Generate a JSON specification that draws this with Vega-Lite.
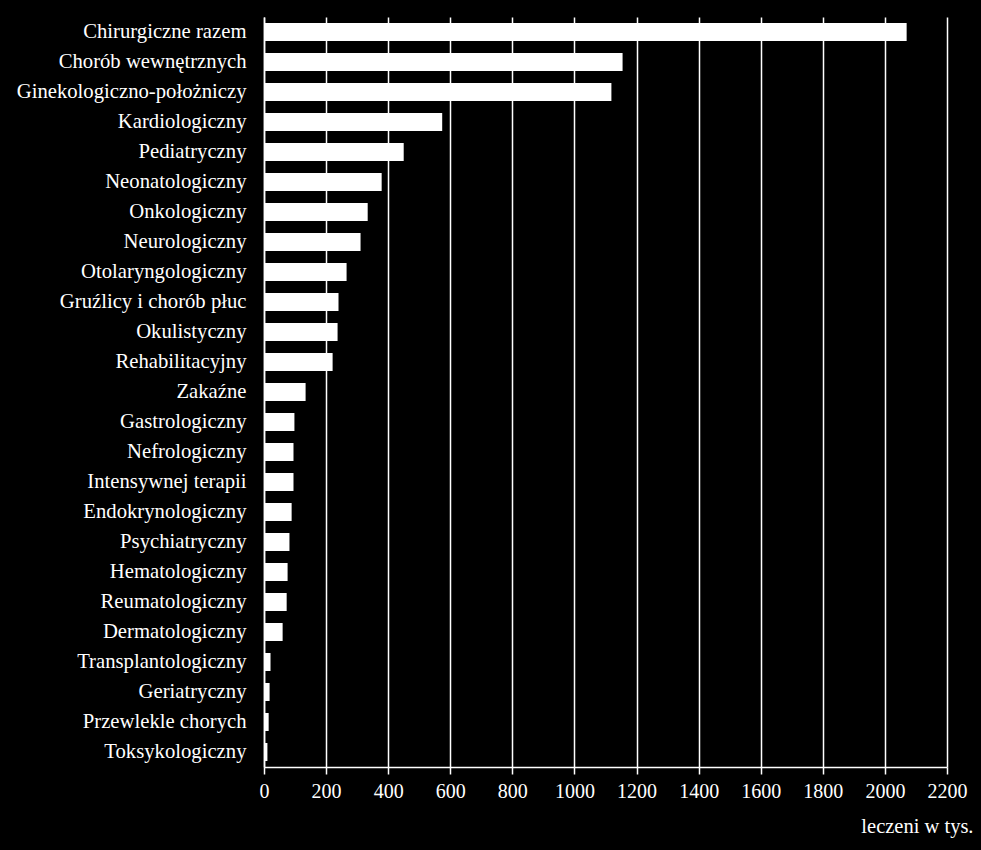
{
  "$schema": "https://vega.github.io/schema/vega-lite/v6.json",
  "width": 683,
  "height": 750,
  "autosize": {"type": "none"},
  "padding": {"left": 264, "top": 17, "right": 34, "bottom": 83},
  "background": "black",
  "config": {
    "view": {"stroke": null},
    "font": "Liberation Serif"
  },
  "data": {
    "values": [
      {"oddzial": "Chirurgiczne razem", "leczeni": 2070},
      {"oddzial": "Chorób wewnętrznych", "leczeni": 1155},
      {"oddzial": "Ginekologiczno-położniczy", "leczeni": 1119},
      {"oddzial": "Kardiologiczny", "leczeni": 574},
      {"oddzial": "Pediatryczny", "leczeni": 450},
      {"oddzial": "Neonatologiczny", "leczeni": 379},
      {"oddzial": "Onkologiczny", "leczeni": 334},
      {"oddzial": "Neurologiczny", "leczeni": 311},
      {"oddzial": "Otolaryngologiczny", "leczeni": 266},
      {"oddzial": "Gruźlicy i chorób płuc", "leczeni": 240},
      {"oddzial": "Okulistyczny", "leczeni": 237},
      {"oddzial": "Rehabilitacyjny", "leczeni": 221},
      {"oddzial": "Zakaźne", "leczeni": 134},
      {"oddzial": "Gastrologiczny", "leczeni": 98},
      {"oddzial": "Nefrologiczny", "leczeni": 95},
      {"oddzial": "Intensywnej terapii", "leczeni": 95},
      {"oddzial": "Endokrynologiczny", "leczeni": 89},
      {"oddzial": "Psychiatryczny", "leczeni": 82},
      {"oddzial": "Hematologiczny", "leczeni": 76},
      {"oddzial": "Reumatologiczny", "leczeni": 73},
      {"oddzial": "Dermatologiczny", "leczeni": 60},
      {"oddzial": "Transplantologiczny", "leczeni": 21},
      {"oddzial": "Geriatryczny", "leczeni": 18},
      {"oddzial": "Przewlekle chorych", "leczeni": 15},
      {"oddzial": "Toksykologiczny", "leczeni": 11}
    ]
  },
  "mark": {"type": "bar", "color": "white"},
  "encoding": {
    "y": {
      "field": "oddzial",
      "type": "nominal",
      "sort": null,
      "scale": {"paddingInner": 0.4, "paddingOuter": 0.2},
      "axis": {
        "title": null,
        "domainColor": "white",
        "domainWidth": 1.5,
        "ticks": false,
        "labelPadding": 18,
        "labelColor": "white",
        "labelFont": "Liberation Serif",
        "labelFontSize": 20.7,
        "labelLimit": 300,
        "grid": false
      }
    },
    "x": {
      "field": "leczeni",
      "type": "quantitative",
      "scale": {"domain": [0, 2200], "nice": false},
      "axis": {
        "values": [0, 200, 400, 600, 800, 1000, 1200, 1400, 1600, 1800, 2000, 2200],
        "format": "d",
        "title": "leczeni w tys.",
        "titleColor": "white",
        "titleFont": "Liberation Serif",
        "titleFontSize": 20.5,
        "titleFontWeight": "normal",
        "titleAnchor": "end",
        "titleAlign": "right",
        "titleBaseline": "alphabetic",
        "titleX": 709,
        "titleY": 65,
        "labelColor": "white",
        "labelFont": "Liberation Serif",
        "labelFontSize": 20,
        "labelPadding": 7,
        "labelFlush": false,
        "domainColor": "white",
        "domainWidth": 1.5,
        "tickColor": "white",
        "tickSize": 7,
        "tickWidth": 1.5,
        "grid": true,
        "gridColor": "white",
        "gridWidth": 1.5
      }
    }
  }
}
